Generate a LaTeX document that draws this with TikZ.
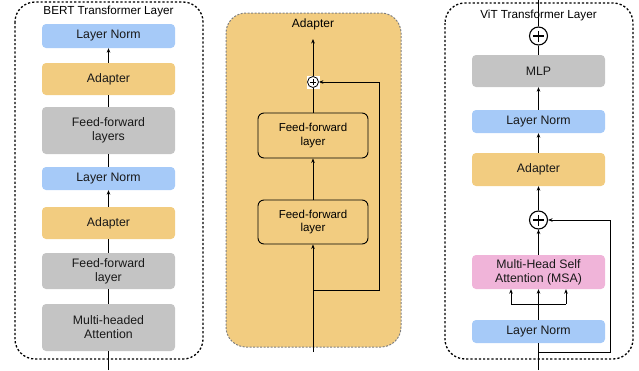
\documentclass[tikz,border=0pt]{standalone}
\usepackage{fontspec}
\setmainfont{Liberation Sans}
\usetikzlibrary{arrows.meta,calc}
\definecolor{cblue}{HTML}{A6CAF8}
\definecolor{corange}{HTML}{F2CC80}
\definecolor{cgray}{HTML}{C4C4C4}
\definecolor{cpink}{HTML}{F0B4D9}
\definecolor{cframe}{HTML}{808080}
\tikzset{
  blk/.style={rounded corners=4pt, minimum width=133pt, inner sep=0pt, align=center,
    font=\fontsize{12.3}{14}\selectfont, text=black!90},
  bluebox/.style={blk, fill=cblue},
  orangebox/.style={blk, fill=corange},
  graybox/.style={blk, fill=cgray},
  pinkbox/.style={blk, fill=cpink},
  ffbox/.style={draw=black, line width=0.9pt, rounded corners=6pt, fill=corange,
    minimum width=110pt, inner sep=0pt, align=center, font=\fontsize{11.5}{13.5}\selectfont},
  frame/.style={draw=black, line width=1.3pt, dash pattern=on 2.2pt off 2pt, rounded corners=20pt},
  conn/.style={draw=black, line width=0.9pt},
  arr/.style={conn, -{Stealth[length=4.5pt,width=3.6pt]}},
  ttl/.style={font=\fontsize{11.7}{14}\selectfont, inner sep=0pt},
  bigplus/.style={circle, draw=black, line width=1.1pt, fill=white, minimum size=18pt, inner sep=0pt,
    path picture={
      \draw[line width=1.1pt] ([xshift=-5.5pt]path picture bounding box.center) -- ([xshift=5.5pt]path picture bounding box.center);
      \draw[line width=1.1pt] ([yshift=-5.5pt]path picture bounding box.center) -- ([yshift=5.5pt]path picture bounding box.center);}},
  smallplus/.style={circle, draw=black, line width=0.8pt, fill=white, minimum size=11pt, inner sep=0pt,
    path picture={
      \draw[line width=0.8pt] ([xshift=-3.3pt]path picture bounding box.center) -- ([xshift=3.3pt]path picture bounding box.center);
      \draw[line width=0.8pt] ([yshift=-3.3pt]path picture bounding box.center) -- ([yshift=3.3pt]path picture bounding box.center);}}
}
\begin{document}
\begin{tikzpicture}[x=1pt,y=-1pt]
\useasboundingbox (0,0) rectangle (639,370);

% ---------------- Left: BERT ----------------
\draw[frame] (15,2) rectangle (203,359);
\node[ttl] (bt) at (108.5,11) {BERT Transformer Layer};
\node[bluebox,   minimum height=24pt] (ln1) at (108.5,36) {Layer Norm};
\node[orangebox, minimum height=32pt] (ad1) at (108.5,79) {Adapter};
\node[graybox,   minimum height=47pt] (ff1) at (108.5,130.5) {Feed-forward\\layers};
\node[bluebox,   minimum height=23pt] (ln2) at (108.5,178.5) {Layer Norm};
\node[orangebox, minimum height=32pt] (ad2) at (108.5,223) {Adapter};
\node[graybox,   minimum height=36pt] (ff2) at (108.5,271) {Feed-forward\\layer};
\node[graybox,   minimum height=47pt] (mha) at (108.5,327.5) {Multi-headed\\Attention};
\coordinate (bin) at (108.5,370);
\draw[conn] (bin) -- (mha.south);
\draw[conn] (mha.north) -- (ff2.south);
\draw[conn] (ff2.north) -- (ad2.south);
\draw[arr] (ad2.north) -- (ln2.south);
\draw[conn] (ln2.north) -- (ff1.south);
\draw[conn] (ff1.north) -- (ad1.south);
\draw[arr] (ad1.north) -- (ln1.south);

% ---------------- Middle: Adapter ----------------
\draw[draw=cframe, fill=corange, line width=1pt, dash pattern=on 2pt off 1.5pt, rounded corners=20pt] (226,13) rectangle (401,347);
\node[ttl, font=\fontsize{12}{14}\selectfont] (at) at (313,24) {Adapter};
\node[ffbox, minimum height=45pt] (mf1) at (313,135.5) {Feed-forward\\layer};
\node[ffbox, minimum height=44pt] (mf2) at (313,222) {Feed-forward\\layer};
\node[fill=white, minimum size=13pt, inner sep=0pt] (mpbg) at (313,82) {};
\node[smallplus] (mp) at (313,82) {};
\coordinate (mtop) at (313,39);
\coordinate (mbot) at (313,352);
\coordinate (mbr) at (313,290);
\coordinate (mr) at (379,290);
\coordinate (mrt) at (379,82);
\draw[arr] (mbot) -- (mf2.south);
\draw[arr] (mf2.north) -- (mf1.south);
\draw[conn] (mf1.north) -- (mp.south);
\draw[arr] (mp.north) -- (mtop);
\draw[arr] (mbr) -- (mr) -- (mrt) -- (mp.east);

% ---------------- Right: ViT ----------------
\draw[frame] (445,3) rectangle (633,359);
\node[ttl] (vt) at (538.5,15) {ViT Transformer Layer};
\node[bigplus] (p1) at (538.5,36) {};
\node[graybox,   minimum height=32pt] (mlp) at (538.5,71) {MLP};
\node[bluebox,   minimum height=23pt] (vln1) at (538.5,121.5) {Layer Norm};
\node[orangebox, minimum height=33pt] (vad) at (538.5,169.5) {Adapter};
\node[bigplus] (p2) at (538.5,220) {};
\node[pinkbox,   minimum height=34pt] (msa) at (538.5,272) {Multi-Head Self\\Attention (MSA)};
\node[bluebox,   minimum height=23pt] (vln2) at (538.5,331.5) {Layer Norm};
\coordinate (vin) at (538.5,370);
\coordinate (vbr) at (538.5,352);
\coordinate (vr) at (610,352);
\coordinate (vrt) at (610,220);
\coordinate (vsplit) at (538.5,304);
\coordinate (vsl) at (511,304);
\coordinate (vsr) at (566,304);
\coordinate (vout) at (538.5,0);
\draw[conn] (vin) -- (vln2.south);
\draw[conn] (vln2.north) -- (vsplit);
\draw[conn] (vsl) -- (vsr);
\draw[arr] (vsplit) -- (msa.south);
\draw[arr] (vsl) -- (vsl |- msa.south);
\draw[arr] (vsr) -- (vsr |- msa.south);
\draw[arr] (vbr) -- (vr) -- (vrt) -- (p2.east);
\draw[arr] (msa.north) -- (p2.south);
\draw[arr] (p2.north) -- (vad.south);
\draw[arr] (vad.north) -- (vln1.south);
\draw[arr] (vln1.north) -- (mlp.south);
\draw[conn] (mlp.north) -- (p1.south);
\draw[conn] (p1.north) -- (vout);
\end{tikzpicture}
\end{document}
